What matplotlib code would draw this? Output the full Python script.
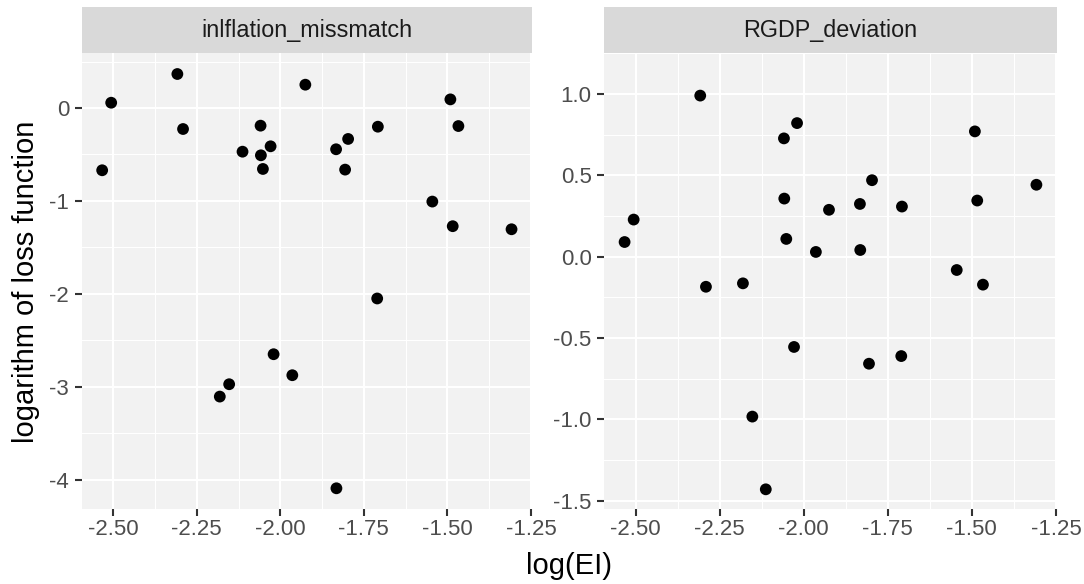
import matplotlib
matplotlib.use("Agg")
import matplotlib.pyplot as plt
import numpy as np

plt.rcParams['font.family'] = ['Liberation Sans', 'DejaVu Sans']

# ---- data ----
log_ei = [-2.533, -2.506, -2.308, -2.291, -2.181, -2.153, -2.113, -2.059, -2.058,
          -2.052, -2.029, -2.020, -1.964, -1.925, -1.833, -1.832, -1.806, -1.797,
          -1.710, -1.708, -1.545, -1.491, -1.484, -1.467, -1.308]
inflation_missmatch = [-0.670, 0.057, 0.366, -0.226, -3.106, -2.973, -0.470, -0.190, -0.509,
                       -0.656, -0.412, -2.650, -2.876, 0.251, -0.444, -4.093, -0.663, -0.333,
                       -2.050, -0.201, -1.007, 0.093, -1.272, -0.194, -1.305]
rgdp_deviation = [0.090, 0.228, 0.990, -0.185, -0.164, -0.983, -1.430, 0.727, 0.357,
                  0.109, -0.555, 0.821, 0.029, 0.288, 0.324, 0.041, -0.658, 0.470,
                  -0.611, 0.308, -0.082, 0.770, 0.345, -0.172, 0.442]
panel_names = ["inlflation_missmatch", "RGDP_deviation"]
x_ticks = [-2.50, -2.25, -2.00, -1.75, -1.50, -1.25]
y_ticks_left = [0, -1, -2, -3, -4]
y_ticks_right = [1.0, 0.5, 0.0, -0.5, -1.0, -1.5]

W, H = 1084, 584
fig = plt.figure(figsize=(W / 100, H / 100), dpi=100)
fig.patch.set_facecolor('white')

PANEL_BG = '#F2F2F2'
STRIP_BG = '#D9D9D9'

def expand(vals, m=0.05):
    lo, hi = min(vals), max(vals)
    r = hi - lo
    return lo - m * r, hi + m * r

def px_axes(x0, x1, y0, y1):
    return fig.add_axes([x0 / W, 1 - y1 / H, (x1 - x0) / W, (y1 - y0) / H])

panels = [
    (81.7, 532.0, inflation_missmatch, y_ticks_left, lambda v: f"{v:g}"),
    (604.0, 1057.0, rgdp_deviation, y_ticks_right, lambda v: f"{v:.1f}"),
]
top, bottom, strip_top = 53.3, 509.0, 6.7

for (x0, x1, yvals, yt, fmt), name in zip(panels, panel_names):
    ax = px_axes(x0, x1, top, bottom)
    ax.set_facecolor(PANEL_BG)
    ax.set_xlim(*expand(log_ei))
    ax.set_ylim(*expand(yvals))
    ax.set_xticks(x_ticks)
    ax.set_xticklabels([f"{v:.2f}" for v in x_ticks])
    ax.set_yticks(yt)
    ax.set_yticklabels([fmt(v) for v in yt])
    xt = np.array(x_ticks)
    ax.set_xticks((xt[:-1] + xt[1:]) / 2, minor=True)
    ytv = np.sort(np.array(yt, dtype=float))
    ax.set_yticks(np.concatenate([(ytv[:-1] + ytv[1:]) / 2,
                                  [ytv[-1] + (ytv[1] - ytv[0]) / 2]]), minor=True)
    ax.grid(True, which='major', color='white', linewidth=1.45)
    ax.grid(True, which='minor', color='white', linewidth=0.75)
    ax.set_axisbelow(True)
    for s in ax.spines.values():
        s.set_visible(False)
    ax.tick_params(which='major', length=5, width=1.5, color='#333333',
                   labelcolor='#4D4D4D', labelsize=16)
    ax.tick_params(axis='x', which='major', pad=2.5)
    ax.tick_params(axis='y', which='major', pad=4)
    ax.tick_params(which='minor', length=0)
    ax.scatter(log_ei, yvals, s=72, color='black', edgecolors='none', zorder=3,
               clip_on=False)

    sax = px_axes(x0, x1, strip_top, top)
    sax.set_facecolor(STRIP_BG)
    sax.set_xticks([]); sax.set_yticks([])
    for s in sax.spines.values():
        s.set_visible(False)
    sax.text(0.5, 0.5, name, ha='center', va='center', fontsize=16.8,
             color='#1A1A1A', transform=sax.transAxes)

fig.text(569.5 / W, 1 - 566 / H, "log(EI)", ha='center', va='center', fontsize=21,
         color='black')
fig.text(26 / W, 1 - 281.5 / H, "logarithm of loss function", ha='center', va='center',
         rotation=90, fontsize=21, color='black')

fig.savefig("out.png", dpi=100)
